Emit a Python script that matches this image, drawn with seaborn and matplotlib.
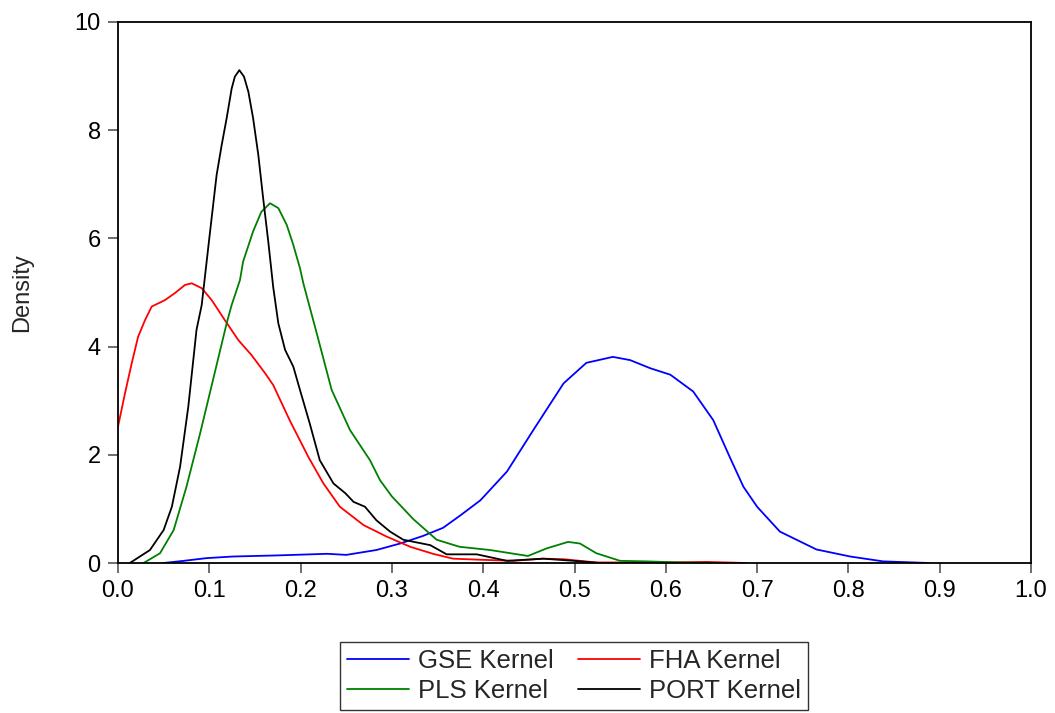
import matplotlib
matplotlib.use("Agg")
import matplotlib.pyplot as plt
import seaborn as sns
import pandas as pd
from matplotlib.lines import Line2D

# ---- data ----
gse_x = [0.05, 0.072, 0.097, 0.126, 0.174, 0.229, 0.25, 0.283, 0.309, 0.334, 0.356, 0.375, 0.397, 0.426,
         0.455, 0.488, 0.513, 0.542, 0.561, 0.583, 0.605, 0.630, 0.652, 0.670, 0.685, 0.700, 0.725, 0.765,
         0.802, 0.838, 0.888]
gse_y = [0, 0.04, 0.09, 0.12, 0.14, 0.17, 0.15, 0.24, 0.36, 0.50, 0.65, 0.88, 1.16, 1.69,
         2.46, 3.32, 3.70, 3.81, 3.75, 3.60, 3.48, 3.17, 2.64, 1.96, 1.41, 1.04, 0.58, 0.25,
         0.12, 0.03, 0]

fha_x = [0, 0.0077, 0.015, 0.022, 0.0296, 0.0369, 0.0515, 0.0624, 0.0734, 0.0807, 0.0917, 0.1026,
         0.117, 0.1318, 0.1464, 0.161, 0.170, 0.188, 0.2085, 0.225, 0.243, 0.269, 0.294, 0.320, 0.345,
         0.367, 0.397, 0.433, 0.465, 0.488, 0.524, 0.60, 0.645, 0.688]
fha_y = [2.52, 3.14, 3.69, 4.18, 4.49, 4.74, 4.86, 4.99, 5.14, 5.17, 5.08, 4.86,
         4.49, 4.12, 3.84, 3.51, 3.29, 2.64, 1.96, 1.47, 1.04, 0.70, 0.49, 0.30, 0.17,
         0.08, 0.06, 0.04, 0.08, 0.07, 0.01, 0.01, 0.02, 0.0]

pls_x = [0.028, 0.046, 0.061, 0.075, 0.090, 0.104, 0.119, 0.1245, 0.1336, 0.137, 0.148, 0.157, 0.1665,
         0.1756, 0.1848, 0.192, 0.1993, 0.203, 0.2176, 0.234, 0.254, 0.276, 0.287, 0.300, 0.3235, 0.349,
         0.374, 0.4075, 0.449, 0.4695, 0.493, 0.506, 0.524, 0.550, 0.579, 0.616, 0.66]
pls_y = [0, 0.18, 0.61, 1.41, 2.40, 3.38, 4.43, 4.77, 5.23, 5.57, 6.13, 6.49, 6.65,
         6.56, 6.25, 5.88, 5.45, 5.17, 4.25, 3.20, 2.46, 1.90, 1.53, 1.23, 0.81, 0.43,
         0.30, 0.24, 0.13, 0.27, 0.39, 0.36, 0.18, 0.04, 0.03, 0.01, 0]

port_x = [0.013, 0.035, 0.050, 0.059, 0.068, 0.077, 0.086, 0.0917, 0.1008, 0.108, 0.1136, 0.119, 0.1245,
          0.128, 0.1329, 0.138, 0.1428, 0.148, 0.1537, 0.159, 0.1646, 0.170, 0.1756, 0.183, 0.192, 0.1993,
          0.210, 0.221, 0.236, 0.249, 0.258, 0.2705, 0.283, 0.298, 0.3125, 0.342, 0.360, 0.393, 0.426,
          0.466, 0.499, 0.528]
port_y = [0, 0.24, 0.61, 1.04, 1.78, 2.89, 4.31, 4.77, 6.12, 7.17, 7.73, 8.22, 8.77,
          8.99, 9.11, 8.99, 8.71, 8.22, 7.54, 6.74, 5.94, 5.10, 4.43, 3.94, 3.63, 3.20,
          2.58, 1.90, 1.47, 1.29, 1.13, 1.04, 0.79, 0.58, 0.43, 0.33, 0.16, 0.16, 0.04,
          0.08, 0.04, 0]

series_names = ["GSE Kernel", "FHA Kernel", "PLS Kernel", "PORT Kernel"]
series_colors = ["#0000ff", "#ff0000", "#008000", "#000000"]
x_ticks = [0.0, 0.1, 0.2, 0.3, 0.4, 0.5, 0.6, 0.7, 0.8, 0.9, 1.0]
y_ticks = [0, 2, 4, 6, 8, 10]

frames = []
for name, xs, ys in zip(series_names,
                        [gse_x, fha_x, pls_x, port_x],
                        [gse_y, fha_y, pls_y, port_y]):
    frames.append(pd.DataFrame({"x": xs, "Density": ys, "series": name}))
df = pd.concat(frames, ignore_index=True)

sns.set_theme(style="ticks")
plt.rcParams["font.family"] = ["Liberation Sans", "DejaVu Sans"]
plt.rcParams["lines.solid_joinstyle"] = "round"

fig = plt.figure(figsize=(10.55, 7.13), dpi=100)
ax = fig.add_axes([118/1055, 1 - 563/713, (1031-118)/1055, (563-22)/713])

sns.lineplot(data=df, x="x", y="Density", hue="series", hue_order=series_names,
             palette=dict(zip(series_names, series_colors)), sort=False, estimator=None,
             linewidth=1.3, ax=ax, legend=False)

ax.set_xlim(0, 1.0)
ax.set_ylim(0, 10)
ax.set_xticks(x_ticks)
ax.set_xticklabels([f"{t:.1f}" for t in x_ticks])
ax.set_yticks(y_ticks)
ax.set_yticklabels([str(t) for t in y_ticks])
ax.set_xlabel("")
ax.set_ylabel("Density", fontsize=17)
ax.yaxis.set_label_coords((33 - 118) / 913, 0.5)
ax.tick_params(axis="both", direction="out", length=7.5, width=1.2, color="#555555",
               labelsize=17, labelcolor="black", pad=5)
for sp in ax.spines.values():
    sp.set_visible(True)
    sp.set_color("black")
    sp.set_linewidth(1.3)

handles = [Line2D([], [], color=c, lw=1.3) for c in series_colors]
leg = fig.legend([handles[i] for i in [0, 2, 1, 3]], [series_names[i] for i in [0, 2, 1, 3]],
                 ncol=2, loc="upper center", bbox_to_anchor=(574/1055, 1 - 642/713),
                 frameon=True, fancybox=False, fontsize=18.5, handlelength=2.4,
                 columnspacing=0.95, handletextpad=0.35, borderpad=0.28, labelspacing=0.22,
                 borderaxespad=0)
leg.get_frame().set_edgecolor("black")
leg.get_frame().set_linewidth(1.0)

fig.savefig("out.png", dpi=100, facecolor="white")
